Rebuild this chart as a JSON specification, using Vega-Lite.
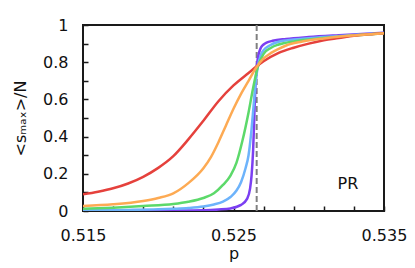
{
  "$schema": "https://vega.github.io/schema/vega-lite/v6.json",
  "width": 301,
  "height": 186,
  "autosize": "none",
  "padding": {"left": 83, "top": 25, "right": 31, "bottom": 57},
  "config": {
    "font": "DejaVu Sans",
    "view": {"stroke": "#1a1a1a", "strokeWidth": 2},
    "axis": {"grid": false, "domain": false, "tickColor": "#1a1a1a", "tickWidth": 1.5, "labelFont": "DejaVu Sans", "titleFont": "DejaVu Sans", "labelFontSize": 16, "labelColor": "#111", "titleFontSize": 16, "titleFontWeight": "normal", "titleColor": "#111", "labelOverlap": false, "labelFlush": false, "labelBound": false}
  },
  "datasets": {
    "curves": [
      {"s": "a", "p": 0.515, "y": 0.001}, {"s": "a", "p": 0.518, "y": 0.001}, {"s": "a", "p": 0.521, "y": 0.002}, {"s": "a", "p": 0.523, "y": 0.004}, {"s": "a", "p": 0.524, "y": 0.008}, {"s": "a", "p": 0.5248, "y": 0.014}, {"s": "a", "p": 0.5255, "y": 0.033}, {"s": "a", "p": 0.5259, "y": 0.065}, {"s": "a", "p": 0.5261, "y": 0.12}, {"s": "a", "p": 0.5262, "y": 0.19}, {"s": "a", "p": 0.5263, "y": 0.32}, {"s": "a", "p": 0.52636, "y": 0.45}, {"s": "a", "p": 0.5264, "y": 0.56}, {"s": "a", "p": 0.52645, "y": 0.66}, {"s": "a", "p": 0.5265, "y": 0.73}, {"s": "a", "p": 0.52658, "y": 0.8}, {"s": "a", "p": 0.52668, "y": 0.845}, {"s": "a", "p": 0.5268, "y": 0.875}, {"s": "a", "p": 0.527, "y": 0.895}, {"s": "a", "p": 0.5272, "y": 0.905}, {"s": "a", "p": 0.5276, "y": 0.915}, {"s": "a", "p": 0.5285, "y": 0.925}, {"s": "a", "p": 0.53, "y": 0.935}, {"s": "a", "p": 0.532, "y": 0.945}, {"s": "a", "p": 0.535, "y": 0.958},
      {"s": "b", "p": 0.515, "y": 0.004}, {"s": "b", "p": 0.518, "y": 0.006}, {"s": "b", "p": 0.52, "y": 0.009}, {"s": "b", "p": 0.521, "y": 0.012}, {"s": "b", "p": 0.522, "y": 0.016}, {"s": "b", "p": 0.523, "y": 0.024}, {"s": "b", "p": 0.5237, "y": 0.035}, {"s": "b", "p": 0.5243, "y": 0.05}, {"s": "b", "p": 0.5248, "y": 0.075}, {"s": "b", "p": 0.5252, "y": 0.11}, {"s": "b", "p": 0.5255, "y": 0.155}, {"s": "b", "p": 0.5258, "y": 0.23}, {"s": "b", "p": 0.526, "y": 0.3}, {"s": "b", "p": 0.5262, "y": 0.44}, {"s": "b", "p": 0.52635, "y": 0.58}, {"s": "b", "p": 0.5265, "y": 0.71}, {"s": "b", "p": 0.5266, "y": 0.77}, {"s": "b", "p": 0.5268, "y": 0.835}, {"s": "b", "p": 0.527, "y": 0.865}, {"s": "b", "p": 0.5274, "y": 0.89}, {"s": "b", "p": 0.528, "y": 0.91}, {"s": "b", "p": 0.529, "y": 0.922}, {"s": "b", "p": 0.531, "y": 0.935}, {"s": "b", "p": 0.533, "y": 0.946}, {"s": "b", "p": 0.535, "y": 0.957},
      {"s": "c", "p": 0.515, "y": 0.012}, {"s": "c", "p": 0.517, "y": 0.018}, {"s": "c", "p": 0.519, "y": 0.027}, {"s": "c", "p": 0.521, "y": 0.038}, {"s": "c", "p": 0.522, "y": 0.05}, {"s": "c", "p": 0.523, "y": 0.07}, {"s": "c", "p": 0.5237, "y": 0.095}, {"s": "c", "p": 0.5243, "y": 0.14}, {"s": "c", "p": 0.5248, "y": 0.19}, {"s": "c", "p": 0.5252, "y": 0.26}, {"s": "c", "p": 0.5256, "y": 0.38}, {"s": "c", "p": 0.526, "y": 0.53}, {"s": "c", "p": 0.5263, "y": 0.66}, {"s": "c", "p": 0.5266, "y": 0.77}, {"s": "c", "p": 0.527, "y": 0.845}, {"s": "c", "p": 0.5275, "y": 0.878}, {"s": "c", "p": 0.528, "y": 0.895}, {"s": "c", "p": 0.529, "y": 0.912}, {"s": "c", "p": 0.531, "y": 0.93}, {"s": "c", "p": 0.533, "y": 0.944}, {"s": "c", "p": 0.535, "y": 0.956},
      {"s": "d", "p": 0.515, "y": 0.09}, {"s": "d", "p": 0.516, "y": 0.104}, {"s": "d", "p": 0.517, "y": 0.122}, {"s": "d", "p": 0.518, "y": 0.148}, {"s": "d", "p": 0.519, "y": 0.184}, {"s": "d", "p": 0.52, "y": 0.232}, {"s": "d", "p": 0.521, "y": 0.295}, {"s": "d", "p": 0.522, "y": 0.385}, {"s": "d", "p": 0.523, "y": 0.485}, {"s": "d", "p": 0.524, "y": 0.59}, {"s": "d", "p": 0.525, "y": 0.675}, {"s": "d", "p": 0.526, "y": 0.742}, {"s": "d", "p": 0.5265, "y": 0.775}, {"s": "d", "p": 0.527, "y": 0.805}, {"s": "d", "p": 0.528, "y": 0.85}, {"s": "d", "p": 0.529, "y": 0.878}, {"s": "d", "p": 0.53, "y": 0.9}, {"s": "d", "p": 0.531, "y": 0.918}, {"s": "d", "p": 0.532, "y": 0.93}, {"s": "d", "p": 0.533, "y": 0.942}, {"s": "d", "p": 0.534, "y": 0.95}, {"s": "d", "p": 0.535, "y": 0.956},
      {"s": "e", "p": 0.515, "y": 0.027}, {"s": "e", "p": 0.517, "y": 0.036}, {"s": "e", "p": 0.519, "y": 0.054}, {"s": "e", "p": 0.52, "y": 0.07}, {"s": "e", "p": 0.521, "y": 0.095}, {"s": "e", "p": 0.522, "y": 0.15}, {"s": "e", "p": 0.523, "y": 0.23}, {"s": "e", "p": 0.5235, "y": 0.29}, {"s": "e", "p": 0.524, "y": 0.37}, {"s": "e", "p": 0.5245, "y": 0.46}, {"s": "e", "p": 0.525, "y": 0.55}, {"s": "e", "p": 0.5255, "y": 0.63}, {"s": "e", "p": 0.526, "y": 0.7}, {"s": "e", "p": 0.5265, "y": 0.77}, {"s": "e", "p": 0.527, "y": 0.82}, {"s": "e", "p": 0.5275, "y": 0.85}, {"s": "e", "p": 0.528, "y": 0.872}, {"s": "e", "p": 0.5285, "y": 0.89}, {"s": "e", "p": 0.5295, "y": 0.91}, {"s": "e", "p": 0.531, "y": 0.928}, {"s": "e", "p": 0.533, "y": 0.944}, {"s": "e", "p": 0.535, "y": 0.956}
    ],
    "crit": [{"p": 0.52654}],
    "note": [{"p": 0.5326, "y": 0.145, "label": "PR"}]
  },
  "layer": [
    {
      "data": {"name": "crit"},
      "mark": {"type": "rule", "color": "#808080", "strokeWidth": 2, "strokeDash": [6, 3]},
      "encoding": {
        "x": {"field": "p", "type": "quantitative", "scale": {"domain": [0.515, 0.535], "nice": false, "zero": false},
          "axis": {"title": "p", "titlePadding": 2, "values": [0.515, 0.517, 0.519, 0.521, 0.523, 0.525, 0.527, 0.529, 0.531, 0.533, 0.535], "tickSize": -5, "labelPadding": 21, "labelOverlap": false, "labelFlush": false, "labelBound": false, "labelExpr": "(abs(datum.value - 0.515) < 0.0001 || abs(datum.value - 0.525) < 0.0001 || abs(datum.value - 0.535) < 0.0001) ? datum.label : ''"}}
      }
    },
    {
      "data": {"name": "curves"},
      "mark": {"type": "line", "strokeWidth": 2.5, "interpolate": "monotone", "clip": true},
      "encoding": {
        "x": {"field": "p", "type": "quantitative",
          "axis": {"title": "p", "titlePadding": 2, "values": [0.515, 0.517, 0.519, 0.521, 0.523, 0.525, 0.527, 0.529, 0.531, 0.533, 0.535], "tickSize": -5, "labelPadding": 21, "labelOverlap": false, "labelFlush": false, "labelBound": false, "labelExpr": "(abs(datum.value - 0.515) < 0.0001 || abs(datum.value - 0.525) < 0.0001 || abs(datum.value - 0.535) < 0.0001) ? datum.label : ''"}},
        "y": {"field": "y", "type": "quantitative", "scale": {"domain": [0, 1], "nice": false},
          "axis": {"title": "<sₘₐₓ>/N", "titlePadding": 14, "values": [0, 0.1, 0.2, 0.3, 0.4, 0.5, 0.6, 0.7, 0.8, 0.9, 1], "tickSize": -5, "labelPadding": 20, "labelOverlap": false, "labelFlush": false, "labelBound": false, "format": "~g", "labelExpr": "(round(datum.value*10) == 0 || round(datum.value*10) == 2 || round(datum.value*10) == 4 || round(datum.value*10) == 6 || round(datum.value*10) == 8 || round(datum.value*10) == 10) ? datum.label : ''"}},
        "color": {"field": "s", "type": "nominal", "legend": null, "scale": {"domain": ["a", "b", "c", "d", "e"], "range": ["#7b3ff2", "#6db3fb", "#5cd96a", "#e5413c", "#fdaa53"]}},
        "order": {"field": "s"}
      }
    },
    {
      "data": {"name": "note"},
      "mark": {"type": "text", "fontSize": 16, "color": "#111", "font": "DejaVu Sans"},
      "encoding": {
        "x": {"field": "p", "type": "quantitative",
          "axis": {"title": "p", "titlePadding": 2, "values": [0.515, 0.517, 0.519, 0.521, 0.523, 0.525, 0.527, 0.529, 0.531, 0.533, 0.535], "tickSize": -5, "labelPadding": 21, "labelOverlap": false, "labelFlush": false, "labelBound": false, "labelExpr": "(abs(datum.value - 0.515) < 0.0001 || abs(datum.value - 0.525) < 0.0001 || abs(datum.value - 0.535) < 0.0001) ? datum.label : ''"}},
        "y": {"field": "y", "type": "quantitative",
          "axis": {"title": "<sₘₐₓ>/N", "titlePadding": 14, "values": [0, 0.1, 0.2, 0.3, 0.4, 0.5, 0.6, 0.7, 0.8, 0.9, 1], "tickSize": -5, "labelPadding": 20, "labelOverlap": false, "labelFlush": false, "labelBound": false, "format": "~g", "labelExpr": "(round(datum.value*10) == 0 || round(datum.value*10) == 2 || round(datum.value*10) == 4 || round(datum.value*10) == 6 || round(datum.value*10) == 8 || round(datum.value*10) == 10) ? datum.label : ''"}},
        "text": {"field": "label"}
      }
    }
  ]
}
